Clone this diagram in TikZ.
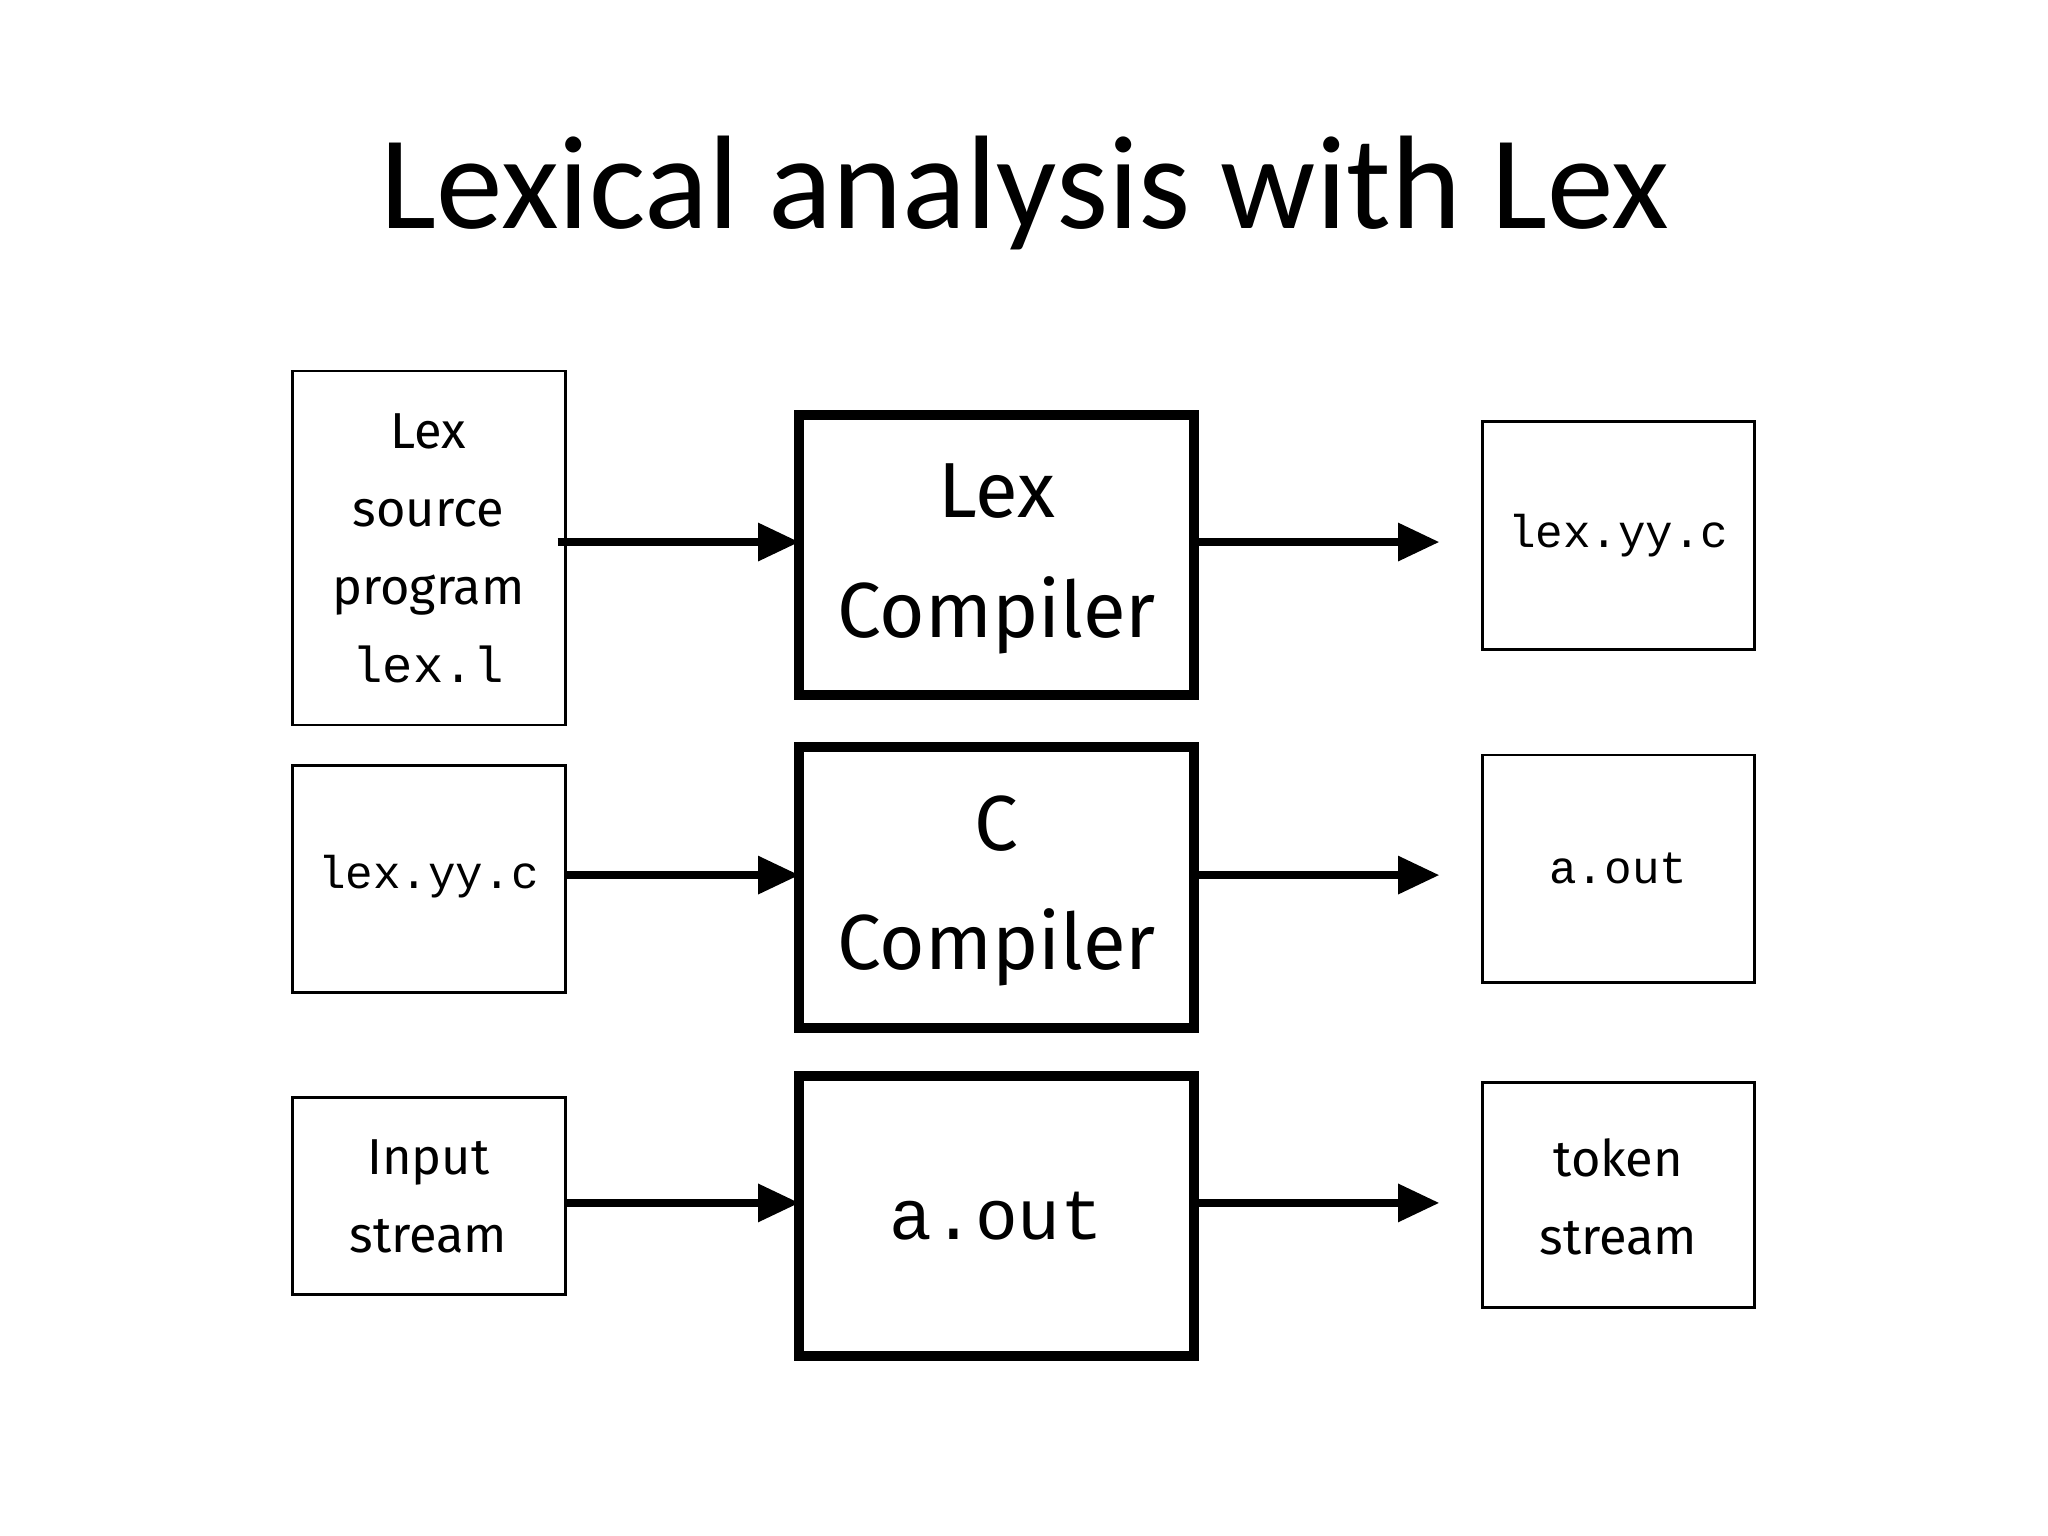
\documentclass[tikz,border=0pt]{standalone}
\usepackage{fontspec}
\setmainfont{Carlito}
\newfontfamily\lblfont{Fira Sans}
\newfontfamily\codefont{Liberation Mono}
\usetikzlibrary{arrows.meta}
\begin{document}
\begin{tikzpicture}[x=0.01cm,y=-0.01cm,
  sbox/.style={draw,line width=0.6pt,inner sep=0},
  mbox/.style={draw,line width=2.2pt,inner sep=0},
  arr/.style={line width=1.6pt,-{Triangle[length=9pt,width=8pt]}},
  sm/.style={font=\lblfont\fontsize{11}{17}\selectfont,align=center},
  big/.style={font=\lblfont\fontsize{17}{26}\selectfont,align=center}]
\useasboundingbox (0,0) rectangle (1568,1176);
\node[font=\fontsize{29}{34}\selectfont] (title) at (785,148) {Lexical analysis with Lex};
% left boxes
\draw[line width=0.6pt] (224,284) rectangle (433,555);
\node[sm] (l1) at (328,420) {Lex\\source\\program\\{\codefont lex.l}};
\draw[line width=0.6pt] (224,586) rectangle (433,760);
\node[font=\codefont\fontsize{10}{12}\selectfont] (l2) at (328,671) {lex.yy.c};
\draw[line width=0.6pt] (224,840) rectangle (433,991);
\node[sm] (l3) at (328,916) {Input\\stream};
% middle
\draw[line width=2.2pt] (612,318) rectangle (914,532);
\node[big] (m1) at (763,428) {Lex\\Compiler};
\draw[line width=2.2pt] (612,572) rectangle (914,787);
\node[big] (m2) at (763,682) {C\\Compiler};
\draw[line width=2.2pt] (612,824) rectangle (914,1038);
\node[font=\codefont\fontsize{15.5}{18}\selectfont] (m3) at (763,931) {a.out};
% right
\draw[line width=0.6pt] (1135,323) rectangle (1343,497);
\node[font=\codefont\fontsize{10}{12}\selectfont] (r1) at (1239,410) {lex.yy.c};
\draw[line width=0.6pt] (1135,578) rectangle (1343,752);
\node[font=\codefont\fontsize{10}{12}\selectfont] (r2) at (1239,665) {a.out};
\draw[line width=0.6pt] (1135,829) rectangle (1343,1001);
\node[sm] (r3) at (1239,916) {token\\stream};
% arrows
\coordinate (a1s) at (427,415); \coordinate (a1e) at (612,415);
\coordinate (b1s) at (914,415); \coordinate (b1e) at (1102,415);
\coordinate (a2s) at (433,670); \coordinate (a2e) at (612,670);
\coordinate (b2s) at (914,670); \coordinate (b2e) at (1102,670);
\coordinate (a3s) at (433,921); \coordinate (a3e) at (612,921);
\coordinate (b3s) at (914,921); \coordinate (b3e) at (1102,921);
\foreach \s/\e in {a1s/a1e,b1s/b1e,a2s/a2e,b2s/b2e,a3s/a3e,b3s/b3e} \draw[arr] (\s) -- (\e);
\end{tikzpicture}
\end{document}
